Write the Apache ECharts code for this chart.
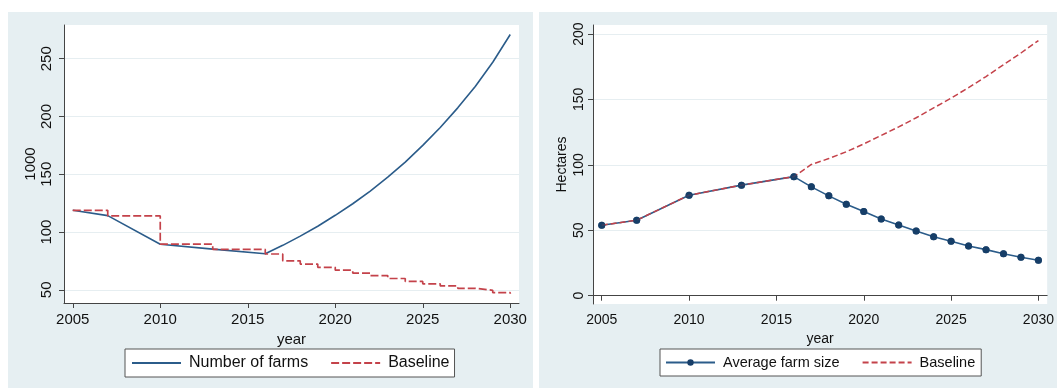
<!DOCTYPE html>
<html>
<head>
<meta charset="utf-8">
<script src="https://cdn.jsdelivr.net/npm/echarts@6/dist/echarts.min.js"></script>
<style>
  html, body { margin: 0; padding: 0; background: #ffffff; }
  #wrap { position: relative; width: 1057px; height: 388px; overflow: hidden; }
  .panel { position: absolute; top: 12px; height: 376px; background: #e6eff2; }
  #chart { position: absolute; left: 0; top: 0; width: 1057px; height: 388px; }
</style>
</head>
<body>
<div id="wrap">
  <div class="panel" style="left:8px; width:525px;"></div>
  <div class="panel" style="left:539px; width:530px;"></div>
  <div id="chart"></div>
</div>
<script>
// Years with observations (survey years, then yearly projections)
const years = [2005, 2007, 2010, 2013, 2016, 2017, 2018, 2019, 2020, 2021, 2022, 2023, 2024, 2025, 2026, 2027, 2028, 2029, 2030];

// Number of farms, thousands
const farmsNumber = [118.8, 114.2, 89.4, 85.2, 81.2, 88.5, 96.5, 105, 114.5, 124.5, 135.5, 147.5, 160.5, 175, 190.5, 207.5, 226, 247, 271];
const farmsBaseline = [118.8, 114, 89.5, 85, 81, 75.1, 72.3, 69.5, 67, 64.5, 62.3, 59.8, 57.3, 55.2, 53.4, 51.3, 49.6, 47.5, 46.5];

// Average farm size, hectares
const farmSize = [53.9, 57.7, 76.8, 84.5, 91, 83.2, 76.3, 69.9, 64.3, 58.7, 54.1, 49.5, 45.1, 41.6, 38, 35.2, 32.1, 29.4, 27.1];
const farmSizeBaseline = [53.9, 57.7, 76.8, 84.5, 91, 100.3, 104.8, 110, 116, 122.5, 129, 136, 143.5, 151, 159, 167.5, 176.5, 185.5, 195];

// Tick labels
const yearTicks = [2005, 2010, 2015, 2020, 2025, 2030];
const farmsTicks = [50, 100, 150, 200, 250];
const sizeTicks = [0, 50, 100, 150, 200];

const pairs = (vals) => years.map((y, i) => [y, vals[i]]);

const FONT = '"Liberation Sans", Arial, sans-serif';
const BLUE = '#2b5c8a';
const NAVY = '#173e68';
const RED = '#c4424a';
const AXIS = '#444444';
const GRID = '#e6eef1';

function xAxis(gridIndex, fontSize) {
  return {
    type: 'value', gridIndex, min: 2004.5, max: 2030.5,
    name: 'year', nameLocation: 'middle', nameGap: 23,
    nameTextStyle: { fontFamily: FONT, fontSize, color: '#111' },
    axisLine: { show: true, lineStyle: { color: AXIS, width: 1 } },
    axisTick: { show: true, length: 5, customValues: yearTicks, lineStyle: { color: AXIS } },
    axisLabel: { customValues: yearTicks, formatter: v => String(v), margin: 9,
      fontFamily: FONT, fontSize, color: '#111' },
    splitLine: { show: false }
  };
}

function yAxis(gridIndex, name, min, max, ticks, fontSize, margin, nameGap) {
  return {
    type: 'value', gridIndex, min, max,
    name, nameLocation: 'middle', nameGap,
    nameTextStyle: { fontFamily: FONT, fontSize, color: '#111' },
    axisLine: { show: true, lineStyle: { color: AXIS, width: 1 } },
    axisTick: { show: true, length: 5, customValues: ticks, lineStyle: { color: AXIS } },
    axisLabel: { customValues: ticks, rotate: 90, margin, formatter: v => String(v),
      fontFamily: FONT, fontSize, color: '#111' },
    splitLine: { show: true, lineStyle: { color: GRID, width: 1 } }
  };
}

// legend entries for plain lines: hide the marker, keep the line
const plainIcon = { itemStyle: { opacity: 0, color: 'transparent', borderWidth: 0 } };

const chart = echarts.init(document.getElementById('chart'), null, { renderer: 'canvas' });

chart.setOption({
  animation: false,
  backgroundColor: 'transparent',
  grid: [
    { left: 64, top: 25, width: 455, height: 278, show: true, backgroundColor: '#ffffff', borderWidth: 0 },
    { left: 593, top: 25, width: 457, height: 279, show: true, backgroundColor: '#ffffff', borderWidth: 0 }
  ],
  xAxis: [xAxis(0, 15), xAxis(1, 14)],
  yAxis: [
    yAxis(0, '1000', 38.6, 279.2, farmsTicks, 15, 10, 25),
    yAxis(1, 'Hectares', -6.35, 206.9, sizeTicks, 14, 7, 24)
  ],
  legend: [
    {
      data: [
        Object.assign({ name: 'Number of farms' }, plainIcon),
        Object.assign({ name: 'Baseline' }, plainIcon)
      ],
      left: 125, top: 349, orient: 'horizontal',
      padding: [6, 5, 6, 6], itemGap: 22, itemWidth: 49, itemHeight: 8,
      borderColor: '#555', borderWidth: 1, backgroundColor: '#ffffff', borderRadius: 0,
      textStyle: { fontFamily: FONT, fontSize: 16, color: '#111', padding: [0, 0, 0, 3] }
    },
    {
      data: [
        { name: 'Average farm size' },
        Object.assign({ name: 'Baseline ' }, plainIcon)
      ],
      left: 660, top: 349, orient: 'horizontal',
      padding: [6, 6, 6, 5], itemGap: 22, itemWidth: 49, itemHeight: 8,
      borderColor: '#555', borderWidth: 1, backgroundColor: '#ffffff', borderRadius: 0,
      formatter: n => n.trim(),
      textStyle: { fontFamily: FONT, fontSize: 14.5, color: '#111', padding: [0, 0, 0, 3] }
    }
  ],
  series: [
    {
      name: 'Number of farms', type: 'line', xAxisIndex: 0, yAxisIndex: 0,
      data: pairs(farmsNumber), showSymbol: false, symbol: 'none',
      lineStyle: { color: BLUE, width: 1.6 }, itemStyle: { color: BLUE }, z: 2
    },
    {
      name: 'Baseline', type: 'line', xAxisIndex: 0, yAxisIndex: 0, step: 'end',
      data: pairs(farmsBaseline), showSymbol: false, symbol: 'none',
      lineStyle: { color: RED, width: 1.7, type: [8, 3] }, itemStyle: { color: RED }, z: 3
    },
    {
      name: 'Average farm size', type: 'line', xAxisIndex: 1, yAxisIndex: 1,
      data: pairs(farmSize), symbol: 'circle', symbolSize: 7, showSymbol: true,
      lineStyle: { color: BLUE, width: 1.6 }, itemStyle: { color: NAVY }, z: 2
    },
    {
      name: 'Baseline ', type: 'line', xAxisIndex: 1, yAxisIndex: 1,
      data: pairs(farmSizeBaseline), showSymbol: false, symbol: 'none',
      lineStyle: { color: RED, width: 1.5, type: [6, 3] }, itemStyle: { color: RED }, z: 3
    },
    {
      // markers drawn above the overlapping baseline segment
      name: 'Average farm size', type: 'scatter', xAxisIndex: 1, yAxisIndex: 1,
      data: pairs(farmSize), symbol: 'circle', symbolSize: 7,
      itemStyle: { color: NAVY }, z: 4, legendHoverLink: false
    }
  ]
});
</script>
</body>
</html>
